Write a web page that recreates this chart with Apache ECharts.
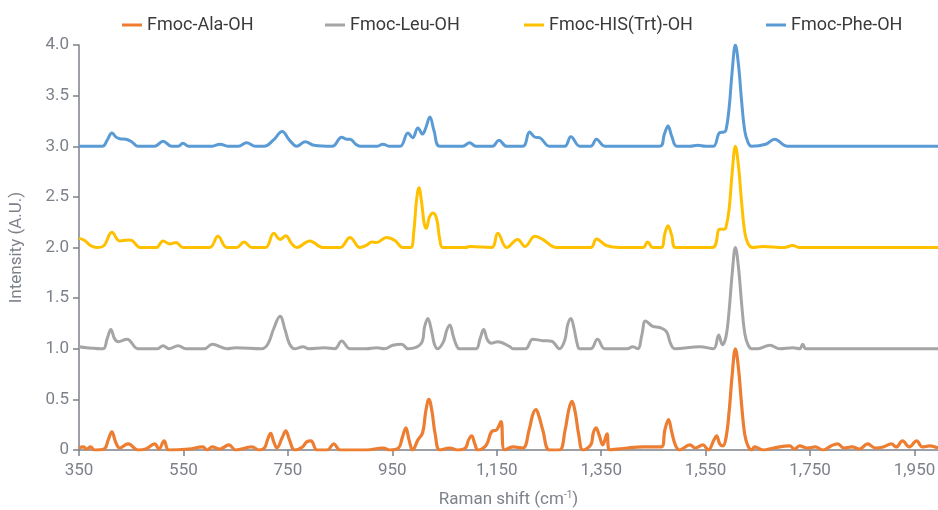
<!DOCTYPE html>
<html>
<head>
<meta charset="utf-8">
<script src="https://cdn.jsdelivr.net/npm/echarts/dist/echarts.min.js"></script>
<style>
  html, body { margin: 0; padding: 0; background: #fff; }
  #chart { width: 938px; height: 510px; }
</style>
</head>
<body>
<div id="chart"></div>
<script>
const seriesNames = ['Fmoc-Ala-OH', 'Fmoc-Leu-OH', 'Fmoc-HIS(Trt)-OH', 'Fmoc-Phe-OH']
const seriesColors = ['#ED7D31', '#A5A5A5', '#FFC000', '#5B9BD5']
const xTicks = [350, 550, 750, 950, 1150, 1350, 1550, 1750, 1950]

// Raman shift (cm-1), intensity (offset spectra)
const alaData = [
  [350, 0.02], [358, 0.03], [365, 0.01], [372, 0.03], [380, 0.0], [398, 0.01], [406, 0.1], [413, 0.18], [420, 0.08], [428, 0.02], [444, 0.06], [463, 0.0], [478, 0.01],
  [495, 0.06], [503, 0.01], [513, 0.09], [522, 0.0], [560, 0.01], [587, 0.03], [595, 0.0], [605, 0.03], [620, 0.01], [637, 0.05], [650, 0.0], [681, 0.03], [695, 0.0],
  [705, 0.02], [711, 0.1], [717, 0.165], [723, 0.08], [729, 0.02], [739, 0.12], [746, 0.19], [753, 0.1], [763, 0.0], [778, 0.03], [786, 0.08], [794, 0.09], [806, 0.0],
  [825, 0.0], [838, 0.06], [850, 0.0], [900, 0.0], [932, 0.02], [945, 0.0],
  [962, 0.02], [969, 0.12], [976, 0.22], [982, 0.1], [989, 0.0], [999, 0.1], [1008, 0.17], [1014, 0.38], [1020, 0.5], [1026, 0.38], [1032, 0.16], [1041, 0.0], [1060, 0.02], [1075, 0.0],
  [1090, 0.02], [1096, 0.1], [1102, 0.14], [1108, 0.06], [1114, 0.0], [1130, 0.05], [1140, 0.18], [1150, 0.2], [1158, 0.28], [1165, 0.0],
  [1181, 0.03], [1200, 0.02], [1212, 0.2], [1219, 0.35], [1225, 0.4], [1231, 0.33], [1238, 0.2], [1251, 0.0],
  [1270, 0.0], [1281, 0.2], [1288, 0.4], [1294, 0.48], [1300, 0.38], [1307, 0.15], [1315, 0.0],
  [1330, 0.05], [1335, 0.17], [1340, 0.22], [1346, 0.15], [1353, 0.05], [1361, 0.16], [1366, 0.0],
  [1400, 0.02], [1430, 0.03], [1465, 0.03], [1472, 0.2], [1479, 0.3], [1485, 0.18], [1492, 0.05], [1500, 0.0],
  [1520, 0.05], [1530, 0.02], [1545, 0.05], [1555, 0.0], [1566, 0.1], [1571, 0.14], [1577, 0.06], [1583, 0.04],
  [1589, 0.12], [1595, 0.38], [1601, 0.75], [1607, 1.0], [1613, 0.8], [1619, 0.44], [1625, 0.15], [1631, 0.04], [1638, 0.0],
  [1644, 0.03], [1660, 0.0], [1680, 0.02], [1711, 0.04], [1720, 0.01], [1730, 0.04], [1745, 0.02], [1760, 0.03], [1775, 0.0], [1790, 0.04], [1803, 0.06],
  [1815, 0.02], [1830, 0.03], [1845, 0.01], [1860, 0.06], [1875, 0.02], [1890, 0.03], [1906, 0.06], [1915, 0.03], [1927, 0.09], [1940, 0.03], [1954, 0.09],
  [1965, 0.03], [1979, 0.04], [1995, 0.02]
]

const leuData = [
  [350, 1.02], [365, 1.01], [396, 1.0], [404, 1.1], [411, 1.19], [418, 1.1], [425, 1.07], [442, 1.095], [463, 1.0],
  [500, 1.0], [511, 1.03], [522, 1.0], [540, 1.03], [555, 1.0], [590, 1.0], [605, 1.045], [633, 1.0], [650, 1.01], [700, 1.0],
  [712, 1.05], [723, 1.2], [735, 1.32], [745, 1.18], [753, 1.05], [763, 1.0], [779, 1.02], [790, 1.0], [820, 1.01], [840, 1.0],
  [853, 1.077], [869, 1.0], [900, 1.0], [920, 1.01], [935, 1.0], [951, 1.035], [968, 1.045], [980, 1.0],
  [1005, 1.05], [1012, 1.22], [1018, 1.3], [1025, 1.18], [1031, 1.04], [1037, 1.0], [1048, 1.07], [1054, 1.18], [1060, 1.235], [1067, 1.12], [1074, 1.02], [1079, 1.0],
  [1110, 1.0], [1118, 1.1], [1125, 1.19], [1132, 1.09], [1140, 1.055], [1152, 1.07], [1175, 1.02], [1181, 1.0],
  [1205, 1.0], [1219, 1.095], [1238, 1.08], [1255, 1.075], [1270, 1.0], [1280, 1.08], [1286, 1.24], [1292, 1.3], [1298, 1.2], [1304, 1.05], [1309, 1.0],
  [1330, 1.0], [1343, 1.095], [1357, 1.0], [1400, 1.0], [1410, 1.02], [1420, 1.0],
  [1428, 1.14], [1435, 1.275], [1449, 1.22], [1462, 1.21], [1475, 1.17], [1483, 1.05], [1491, 1.0],
  [1539, 1.02], [1565, 1.0], [1575, 1.135], [1582, 1.04], [1589, 1.12], [1595, 1.38], [1601, 1.75], [1607, 2.0], [1613, 1.8], [1619, 1.44], [1625, 1.15], [1631, 1.04], [1638, 1.0],
  [1650, 1.0], [1673, 1.035], [1692, 1.0], [1717, 1.01], [1730, 1.0], [1736, 1.045], [1742, 1.0], [1995, 1.0]
]

const hisData = [
  [350, 2.09], [361, 2.07], [372, 2.02], [384, 2.0], [398, 2.02], [413, 2.15], [428, 2.065], [444, 2.075], [451, 2.07], [467, 2.0],
  [498, 2.0], [511, 2.065], [524, 2.035], [536, 2.05], [549, 2.0],
  [600, 2.0], [616, 2.11], [633, 2.0], [652, 2.0], [666, 2.055], [681, 2.0],
  [707, 2.0], [723, 2.14], [735, 2.08], [746, 2.115], [757, 2.04], [767, 2.0], [792, 2.065], [817, 2.0],
  [850, 2.0], [869, 2.1], [888, 2.0], [900, 2.02], [911, 2.055], [920, 2.05], [939, 2.1], [955, 2.07], [970, 2.0],
  [985, 2.0], [991, 2.15], [996, 2.45], [1001, 2.59], [1006, 2.45], [1011, 2.24], [1015, 2.19], [1021, 2.3], [1028, 2.34], [1035, 2.28], [1041, 2.08], [1047, 2.0],
  [1090, 2.0], [1098, 2.01], [1140, 2.0], [1152, 2.14], [1169, 2.0],
  [1190, 2.08], [1204, 2.01], [1223, 2.11], [1238, 2.08], [1265, 2.0],
  [1330, 2.0], [1341, 2.085], [1360, 2.02], [1385, 2.0], [1430, 2.0], [1439, 2.055], [1449, 2.0],
  [1465, 2.0], [1472, 2.14], [1478, 2.215], [1485, 2.12], [1493, 2.0], [1563, 2.0], [1577, 2.18], [1585, 2.18], [1589, 2.2],
  [1595, 2.38], [1601, 2.75], [1607, 3.0], [1613, 2.8], [1619, 2.44], [1625, 2.15], [1631, 2.04], [1640, 2.0],
  [1659, 2.01], [1700, 2.0], [1717, 2.02], [1730, 2.0], [1995, 2.0]
]

const pheData = [
  [350, 3.0], [395, 3.0], [404, 3.06], [413, 3.13], [421, 3.09], [428, 3.075], [440, 3.07], [452, 3.04], [463, 3.0],
  [495, 3.0], [511, 3.05], [527, 3.0], [540, 3.0], [549, 3.03], [560, 3.0],
  [605, 3.0], [620, 3.02], [635, 3.0], [655, 3.0], [671, 3.035], [688, 3.0], [705, 3.0],
  [722, 3.06], [739, 3.145], [753, 3.06], [767, 3.0], [783, 3.045], [800, 3.01], [835, 3.0],
  [853, 3.09], [862, 3.07], [869, 3.07], [880, 3.02], [888, 3.0], [920, 3.0], [932, 3.02], [945, 3.0],
  [965, 3.0], [980, 3.13], [989, 3.085], [999, 3.18], [1008, 3.12], [1014, 3.18], [1022, 3.29], [1030, 3.15], [1041, 3.0],
  [1085, 3.0], [1098, 3.035], [1110, 3.0], [1142, 3.0], [1154, 3.06], [1169, 3.0],
  [1200, 3.0], [1213, 3.14], [1223, 3.09], [1232, 3.085], [1251, 3.0],
  [1280, 3.0], [1292, 3.095], [1309, 3.0], [1330, 3.0], [1341, 3.07], [1357, 3.0],
  [1462, 3.0], [1471, 3.12], [1478, 3.2], [1485, 3.1], [1495, 3.0], [1520, 3.0], [1535, 3.01], [1550, 3.0],
  [1565, 3.0], [1577, 3.135], [1585, 3.14], [1589, 3.16], [1595, 3.38], [1601, 3.75], [1607, 4.0], [1613, 3.8], [1619, 3.44], [1625, 3.15], [1631, 3.04], [1638, 3.0],
  [1665, 3.02], [1682, 3.07], [1707, 3.0], [1995, 3.0]
]

const allData = [alaData, leuData, hisData, pheData]
const legendLeft = [117, 320, 519, 761]

const axisGrey = '#7d8189'
const font = 'Roboto'

const chart = echarts.init(document.getElementById('chart'), null, {renderer: 'canvas'})

const option = {
  animation: false,
  textStyle: {fontFamily: font},
  legend: seriesNames.map((name, i) => ({
    data: [name],
    left: legendLeft[i],
    top: 11,
    icon: 'rect',
    itemWidth: 20,
    itemHeight: 3,
    itemGap: 8,
    textStyle: {fontFamily: font, fontSize: 18, color: '#3a3a3a'}
  })),
  grid: {left: 79, right: 0, top: 45, bottom: 60, containLabel: false, outerBoundsMode: 'none'},
  xAxis: {
    type: 'value',
    min: 350,
    max: 1995,
    name: 'Raman shift (cm{sup|-1})',
    nameLocation: 'middle',
    nameGap: 40,
    nameTextStyle: {
      fontFamily: font, fontSize: 17, color: axisGrey,
      rich: {sup: {fontFamily: font, fontSize: 10, color: axisGrey, padding: [0, 0, 9, 0]}}
    },
    splitLine: {show: false},
    axisLine: {lineStyle: {color: axisGrey, width: 1.5}},
    axisTick: {customValues: xTicks, length: 6, lineStyle: {color: axisGrey, width: 1.5}},
    axisLabel: {
      customValues: xTicks,
      fontFamily: font, fontSize: 17, color: axisGrey, margin: 12,
      formatter: v => v.toLocaleString('en-US')
    }
  },
  yAxis: {
    type: 'value',
    min: 0,
    max: 4,
    interval: 0.5,
    name: 'Intensity (A.U.)',
    nameLocation: 'middle',
    nameGap: 54,
    nameTextStyle: {fontFamily: font, fontSize: 17, color: axisGrey},
    splitLine: {show: false},
    axisLine: {show: true, lineStyle: {color: axisGrey, width: 1.5}},
    axisTick: {show: true, length: 6, lineStyle: {color: axisGrey, width: 1.5}},
    axisLabel: {
      fontFamily: font, fontSize: 17, color: axisGrey, margin: 10,
      formatter: v => v === 0 ? '0' : v.toFixed(1)
    }
  },
  series: seriesNames.map((name, i) => ({
    name: name,
    type: 'line',
    data: allData[i],
    showSymbol: false,
    smooth: 0.4,
    color: seriesColors[i],
    lineStyle: {width: i === 0 ? 3.2 : 3, color: seriesColors[i], join: 'round'}
  }))
}

chart.setOption(option)
</script>
</body>
</html>
